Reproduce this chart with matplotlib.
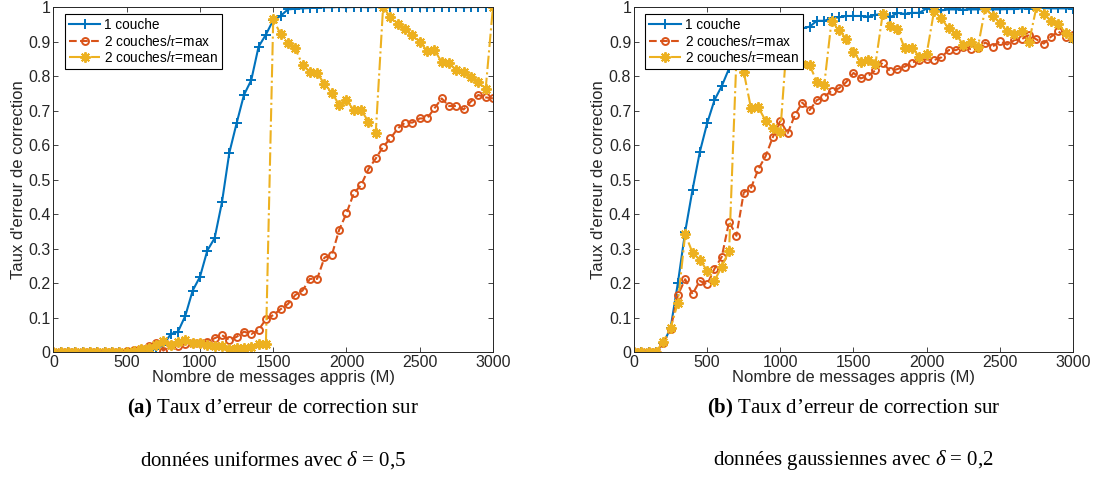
import numpy as np
import matplotlib
matplotlib.use("Agg")
import matplotlib.pyplot as plt

# nombre de messages appris (M), pas de 50
x_msgs = list(range(0, 3001, 50))

# (a) données uniformes, delta = 0,5
unif_1couche = [0, 0, 0, 0, 0, 0, 0, 0, 0, 0, 0, 0, 0,
                0.003, 0.01, 0.02, 0.052, 0.059, 0.105, 0.178, 0.218, 0.294, 0.33, 0.434, 0.577,
                0.663, 0.745, 0.788, 0.885, 0.92, 0.962, 0.974, 0.993, 0.995, 0.996, 0.997, 0.998,
                0.999, 0.999, 1.0, 0.999, 1.0, 1.0, 0.999, 1.0, 1.0, 1.0, 0.999, 1.0,
                1.0, 1.0, 0.999, 1.0, 1.0, 1.0, 1.0, 0.999, 1.0, 1.0, 1.0, 1.0]
unif_max = [0, 0, 0, 0, 0, 0, 0, 0, 0, 0,
            0.002, 0.005, 0.01, 0.018, 0.025, 0.004,
            0.02, 0.017, 0.023, 0.027, 0.027, 0.03, 0.04, 0.049, 0.035, 0.044, 0.059, 0.052, 0.064, 0.095,
            0.107, 0.124, 0.139, 0.165, 0.178, 0.212, 0.212, 0.274, 0.281, 0.354, 0.402, 0.46,
            0.484, 0.53, 0.561, 0.595, 0.619, 0.648, 0.665, 0.665, 0.677, 0.677, 0.706, 0.735,
            0.713, 0.713, 0.703, 0.726, 0.745, 0.738, 0.735]
unif_mean = [0, 0, 0, 0, 0, 0, 0, 0, 0, 0, 0,
             0.003, 0.008, 0.012, 0.02, 0.033, 0.02, 0.028, 0.035, 0.025, 0.027, 0.02, 0.017,
             0.017, 0.01, 0.012, 0.012, 0.014, 0.023, 0.023,
             0.964, 0.922, 0.897, 0.88, 0.832, 0.812, 0.808, 0.777, 0.752, 0.716, 0.73, 0.701,
             0.701, 0.668, 0.636, 1.0, 0.97, 0.951, 0.935, 0.919, 0.9, 0.873, 0.875, 0.841,
             0.837, 0.817, 0.812, 0.796, 0.783, 0.761, 1.0]

# (b) données gaussiennes, delta = 0,2
gaus_1couche = [0, 0, 0, 0, 0.025, 0.069, 0.2, 0.349, 0.47, 0.58, 0.663, 0.73, 0.771,
                0.822, 0.85, 0.87, 0.885, 0.9, 0.91, 0.92, 0.925, 0.935, 0.938, 0.938, 0.943,
                0.96, 0.96, 0.967, 0.97, 0.974, 0.974, 0.974, 0.972, 0.977, 0.981, 0.97, 0.983,
                0.98, 0.983, 0.983, 0.996, 0.991, 0.99, 0.993, 0.993, 0.992, 0.993, 0.993, 0.994,
                0.993, 0.993, 0.994, 0.994, 0.996, 0.995, 1.0, 0.997, 0.996, 0.996, 0.996, 0.995]
gaus_max = [0, 0, 0, 0, 0.025, 0.066, 0.165, 0.211, 0.168, 0.206, 0.196, 0.241, 0.276,
            0.378, 0.337, 0.462, 0.476, 0.53, 0.568, 0.624, 0.67, 0.634, 0.687, 0.723, 0.701,
            0.73, 0.74, 0.757, 0.764, 0.782, 0.809, 0.793, 0.8, 0.817, 0.839, 0.814, 0.82,
            0.827, 0.839, 0.846, 0.848, 0.846, 0.854, 0.875, 0.875, 0.885, 0.878, 0.88, 0.897,
            0.885, 0.901, 0.891, 0.904, 0.907, 0.919, 0.906, 0.894, 0.914, 0.929, 0.914, 0.92]
gaus_mean = [0, 0, 0, 0, 0.03, 0.069, 0.143, 0.342, 0.288, 0.267, 0.236, 0.207, 0.247,
             0.294, 0.85, 0.812, 0.706, 0.709, 0.67, 0.648, 0.639, 0.93, 0.85, 0.836, 0.832,
             0.783, 0.774, 0.96, 0.933, 0.908, 0.869, 0.841, 0.846, 0.835, 0.981, 0.945, 0.935,
             0.88, 0.882, 0.856, 0.864, 0.987, 0.967, 0.938, 0.922, 0.89, 0.9, 0.883, 0.996,
             0.974, 0.955, 0.929, 0.922, 0.929, 0.9, 0.999, 0.98, 0.96, 0.951, 0.924, 0.909]

labels = ["1 couche", r"2 couches/$\tau$=max", r"2 couches/$\tau$=mean"]
captions = [(r"$\mathbf{(a)}$ Taux d’erreur de correction sur", r"données uniformes avec $\delta$ = 0,5"),
            (r"$\mathbf{(b)}$ Taux d’erreur de correction sur", r"données gaussiennes avec $\delta$ = 0,2")]

plt.rcParams['font.family'] = ['Liberation Sans', 'DejaVu Sans']
plt.rcParams['mathtext.fontset'] = 'custom'
plt.rcParams['mathtext.rm'] = 'Liberation Serif'
plt.rcParams['mathtext.it'] = 'Liberation Serif:italic'
plt.rcParams['mathtext.bf'] = 'Liberation Serif:bold'

BLUE = '#0072BD'
RED = '#D95319'
YELLOW = '#EDB120'
GREY = '#262626'

fig = plt.figure(figsize=(10.94, 4.83), dpi=100)
positions = [[0.0489, 0.2712, 0.4017, 0.7143], [0.5795, 0.2712, 0.4013, 0.7143]]
datasets = [(unif_1couche, unif_max, unif_mean), (gaus_1couche, gaus_max, gaus_mean)]

for pos, (d1, dmax, dmean), cap in zip(positions, datasets, captions):
    ax = fig.add_axes(pos)
    ax.plot(x_msgs, d1, '-', color=BLUE, lw=1.5, marker='+', ms=6.5, mew=1.4, label=labels[0])
    ax.plot(x_msgs, dmax, '--', color=RED, lw=1.5, marker='o', ms=5, mew=1.4,
            mfc='none', label=labels[1])
    ax.plot(x_msgs, dmean, '-.', color=YELLOW, lw=1.5, marker=(8, 2, 0), ms=7.5, mew=1.4,
            label=labels[2])
    ax.set_xlim(0, 3000)
    ax.set_ylim(0, 1)
    ax.set_xticks(range(0, 3001, 500))
    ax.set_yticks(np.arange(0, 1.01, 0.1))
    ax.set_yticklabels(["0", "0.1", "0.2", "0.3", "0.4", "0.5", "0.6", "0.7", "0.8", "0.9", "1"])
    ax.tick_params(direction='in', top=True, right=True, length=3.5, width=0.6,
                   labelsize=11.5, colors=GREY, pad=2)
    for s in ax.spines.values():
        s.set_color(GREY)
        s.set_linewidth(0.7)
    ax.set_xlabel("Nombre de messages appris (M)", fontsize=12, color=GREY, labelpad=0)
    ax.set_ylabel("Taux d'erreur de correction", fontsize=12, color=GREY, labelpad=2)
    leg = ax.legend(loc='upper left', bbox_to_anchor=(0.026, 0.98), borderaxespad=0,
                    fontsize=9.8, handlelength=2.3, labelspacing=0.12, borderpad=0.3,
                    handletextpad=0.3, fancybox=False, framealpha=1, edgecolor='black')
    leg.get_frame().set_linewidth(0.8)
    cx = pos[0] + pos[2] / 2
    fig.text(cx, 0.155, cap[0], ha='center', va='center', fontsize=15,
             family='Liberation Serif')
    fig.text(cx, 0.048, cap[1], ha='center', va='center', fontsize=15,
             family='Liberation Serif')

fig.savefig("out.png", dpi=100)
